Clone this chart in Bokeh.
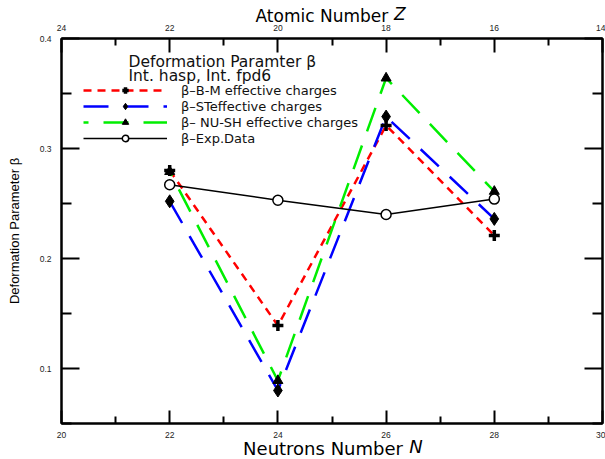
from bokeh.plotting import figure
from bokeh.models import Range1d, LinearAxis, FixedTicker, Label, Legend, LegendItem, Title
from bokeh.embed import file_html
from bokeh.resources import INLINE

# ---- data ----
neutrons = [22, 24, 26, 28]
beta_bm = [0.280, 0.139, 0.321, 0.221]
beta_st = [0.252, 0.080, 0.329, 0.236]
beta_nush = [0.279, 0.089, 0.364, 0.261]
beta_exp = [0.267, 0.253, 0.240, 0.254]

n_ticks = [20, 22, 24, 26, 28, 30]
n_minor = [21, 23, 25, 27, 29]
z_ticks = [24, 22, 20, 18, 16, 14]
z_minor = [23, 21, 19, 17, 15]
b_ticks = [0.1, 0.2, 0.3, 0.4]
b_minor = [0.05, 0.15, 0.25, 0.35]

legend_labels = ["β–B-M effective charges", "β–STeffective charges",
                 "β– NU-SH effective charges", "β–Exp.Data"]
legend_title = ["Deformation Paramter β", "Int. hasp, Int. fpd6"]

TXT = "DejaVu Sans"
NUM = "Liberation Sans"

p = figure(width=605, height=459,
           x_range=Range1d(20, 30), y_range=Range1d(0.05, 0.4),
           output_backend="svg", toolbar_location=None,
           min_border_left=61, min_border_right=3, min_border_top=38, min_border_bottom=36,
           background_fill_color="white", border_fill_color="white")
p.extra_x_ranges = {"z": Range1d(24, 14)}
p.grid.visible = False
p.outline_line_color = "black"
p.outline_line_width = 2


def style_axis(ax, ticks, minor, tin, tmin, standoff, labels=True):
    ax.ticker = FixedTicker(ticks=ticks, minor_ticks=minor)
    ax.axis_line_width = 2
    ax.axis_line_color = "black"
    ax.major_tick_in = tin
    ax.major_tick_out = 0
    ax.minor_tick_in = tmin
    ax.minor_tick_out = 0
    ax.major_tick_line_width = 2
    ax.minor_tick_line_width = 2
    ax.major_label_standoff = standoff
    ax.major_label_text_font = NUM
    if labels:
        ax.major_label_text_font_size = "8.5px"
        ax.major_label_text_color = "#222222"
    else:
        ax.major_label_text_font_size = "0px"
        ax.major_label_text_color = None


xb = p.xaxis[0]
style_axis(xb, n_ticks, n_minor, 13, 7, 8)
yl = p.yaxis[0]
style_axis(yl, b_ticks, b_minor, 18, 10, 10)
yl.axis_label = "Deformation Parameter β"
yl.axis_label_text_font = NUM
yl.axis_label_text_font_size = "13px"
yl.axis_label_text_font_style = "normal"
yl.axis_label_standoff = 15
yl.axis_label_text_color = "black"

xt = LinearAxis(x_range_name="z")
style_axis(xt, z_ticks, z_minor, 14, 7, 8)
p.add_layout(xt, "above")

yr = LinearAxis()
style_axis(yr, b_ticks, b_minor, 18, 10, 0, labels=False)
p.add_layout(yr, "right")

# ---- series ----
r_bm = p.line(neutrons, beta_bm, line_color="#ff0000", line_width=2.5, line_dash="8 6")
r_st = p.line(neutrons, beta_st, line_color="#0000ff", line_width=2.5, line_dash="25 15")
r_nu = p.line(neutrons, beta_nush, line_color="#00ee00", line_width=2.5, line_dash="25 15", line_dash_offset=20)
r_ex = p.line(neutrons, beta_exp, line_color="black", line_width=1.5)

m_nu = p.scatter(neutrons, beta_nush, marker="triangle", size=10, color="black")
m_st = p.scatter(neutrons, beta_st, marker="diamond", size=13, color="black")
m_bm = p.scatter(neutrons, beta_bm, marker="cross", size=11, line_color="black", line_width=3.5)
m_ex = p.scatter(neutrons, beta_exp, marker="circle", size=10, line_color="black",
                 fill_color="white", line_width=1.5)

legend = Legend(items=[
    LegendItem(label=legend_labels[0], renderers=[r_bm, m_bm]),
    LegendItem(label=legend_labels[1], renderers=[r_st, m_st]),
    LegendItem(label=legend_labels[2], renderers=[r_nu, m_nu]),
    LegendItem(label=legend_labels[3], renderers=[r_ex, m_ex]),
], location=(22, 277), padding=0, margin=0, spacing=0, glyph_width=84, glyph_height=16,
    label_height=16, label_standoff=14, border_line_color=None, background_fill_alpha=0,
    label_text_font=TXT, label_text_font_size="13px", label_text_color="#111111")
p.add_layout(legend)

# legend title lines
p.add_layout(Label(x=21.238, y=0.3782, text=legend_title[0], text_font=TXT,
                   text_font_size="15.5px", text_baseline="alphabetic", text_color="#111111"))
p.add_layout(Label(x=21.238, y=0.3663, text=legend_title[1], text_font=TXT,
                   text_font_size="15.5px", text_baseline="alphabetic", text_color="#111111"))

# bottom axis title (two parts so that N is italic)
p.add_layout(Title(text="Neutrons Number", align="left", offset=181.6, vertical_align="top",
                   standoff=-6, text_font=TXT, text_font_size="18px", text_font_style="normal",
                   text_color="black"), "below")
p.add_layout(Title(text="N", align="left", offset=347.7, vertical_align="top",
                   standoff=-44, text_font=TXT, text_font_size="18px", text_font_style="italic",
                   text_color="black"), "below")
# top axis title
p.add_layout(Title(text="Atomic Number", align="left", offset=194, vertical_align="bottom",
                   standoff=-8, text_font=TXT, text_font_size="17px", text_font_style="normal",
                   text_color="black"), "above")
p.add_layout(Title(text="Z", align="left", offset=332.4, vertical_align="bottom",
                   standoff=-32, text_font=TXT, text_font_size="17px", text_font_style="italic",
                   text_color="black"), "above")

open("out.html", "w").write(file_html(p, INLINE))
